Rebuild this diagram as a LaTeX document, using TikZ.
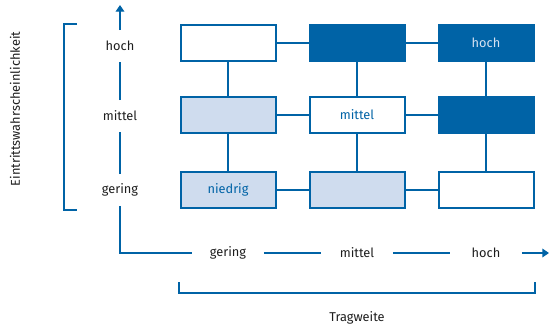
\documentclass[tikz,border=0pt]{standalone}
\usepackage{fontspec}
\setmainfont{Fira Sans}
\usetikzlibrary{positioning, arrows.meta}
\definecolor{riskblue}{RGB}{0,99,166}
\definecolor{risklight}{RGB}{207,220,238}
\definecolor{labelgray}{RGB}{30,30,30}
\definecolor{hochtext}{RGB}{214,226,242}

\begin{document}
\begin{tikzpicture}[x=0.75pt,y=0.75pt,yscale=-1,xscale=1,
  font=\fontsize{9.6}{11.5}\selectfont, text=labelgray,
  cell/.style={draw=riskblue, line width=1.5pt, minimum width=71.25pt, minimum height=27pt, inner sep=0pt},
  lowcell/.style={cell, fill=risklight, text=riskblue},
  midcell/.style={cell, fill=white, text=riskblue},
  highcell/.style={cell, fill=riskblue, text=hochtext},
  link/.style={draw=riskblue, line width=0.8pt},
  axis/.style={draw=riskblue, line width=1pt},
  ylabel/.style={inner sep=0pt, minimum height=23.25pt},
  xlabel/.style={inner sep=0pt, minimum width=53.25pt},
  bracket/.style={draw=riskblue, line width=0.9pt}]
\useasboundingbox (0,0) rectangle (549,329);

%Shape: matrix cells, top row (Eintrittswahrscheinlichkeit hoch)
\node[midcell] (c11) at (228,43) {};
\node[highcell] (c21) at (357,43) {};
\node[highcell] (c31) at (486,43) {hoch};
%Shape: matrix cells, middle row
\node[lowcell] (c12) at (228,115) {};
\node[midcell] (c22) at (357,115) {mittel};
\node[highcell] (c32) at (486,115) {};
%Shape: matrix cells, bottom row
\node[lowcell] (c13) at (228,190) {niedrig};
\node[lowcell] (c23) at (357,190) {};
\node[midcell] (c33) at (486,190) {};

%Straight Lines: links between cells
\draw[link] (c11) -- (c21);
\draw[link] (c21) -- (c31);
\draw[link] (c12) -- (c22);
\draw[link] (c22) -- (c32);
\draw[link] (c13) -- (c23);
\draw[link] (c23) -- (c33);
\draw[link] (c11) -- (c12);
\draw[link] (c12) -- (c13);
\draw[link] (c21) -- (c22);
\draw[link] (c22) -- (c23);
\draw[link] (c31) -- (c32);
\draw[link] (c32) -- (c33);

% Text Node: axis labels
\coordinate (origin) at (120,253);
\coordinate (ytip) at (120,5);
\coordinate (xtip) at (549,253);
\node[ylabel] (yg) at (120,190) {gering};
\node[ylabel] (ym) at (120,116) {mittel};
\node[ylabel] (yh) at (120,46) {hoch};
\node[xlabel] (xg) at (228,253) {gering};
\node[xlabel] (xm) at (357,253) {mittel};
\node[xlabel] (xh) at (486,253) {hoch};

%Straight Lines: axes
\draw[axis] (yg.north) -- (ym.south);
\draw[axis] (ym.north) -- (yh.south);
\draw[axis, -{Triangle[length=5pt,width=6.5pt]}] (yh.north) -- (ytip);
\draw[axis] (yg.south) -- (origin) -- (xg.west);
\draw[axis] (xg.east) -- (xm.west);
\draw[axis] (xm.east) -- (xh.west);
\draw[axis, -{Triangle[length=5pt,width=6.5pt]}] (xh.east) -- (xtip);

%Straight Lines: brackets
\draw[bracket] (77,24) -- (64,24) -- (64,210) -- (77,210);
\draw[bracket] (179,282) -- (179,293) -- (535,293) -- (535,282);

% Text Node
\node[rotate=90] (prob) at (15,109) {Eintrittswahrscheinlichkeit};
% Text Node
\node (impact) at (357,318) {Tragweite};
\end{tikzpicture}
\end{document}
